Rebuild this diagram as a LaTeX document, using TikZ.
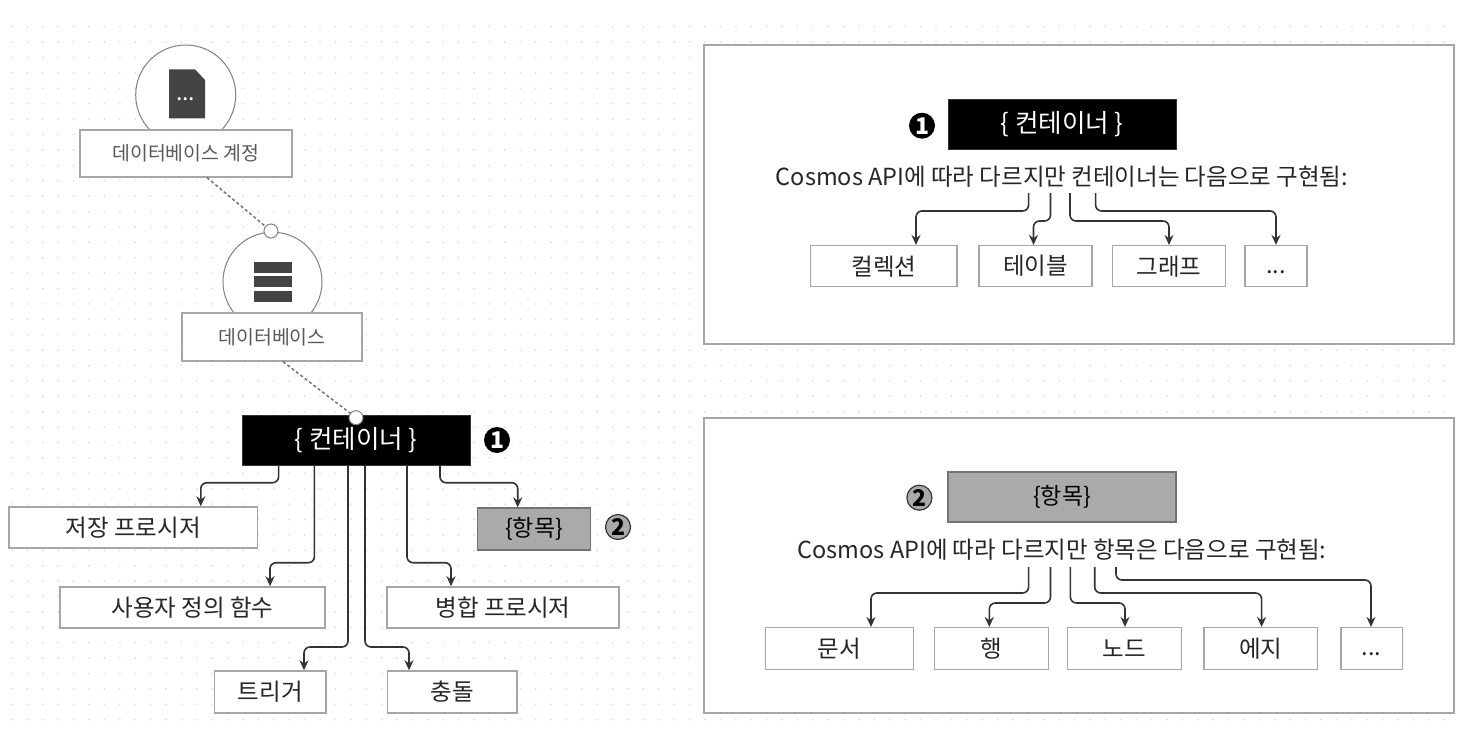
\documentclass[tikz,border=0pt]{standalone}
\usepackage{fontspec}
\setmainfont{Noto Sans CJK KR}
\usetikzlibrary{arrows.meta}
\definecolor{dotc}{HTML}{DEDEDE}
\definecolor{edgec}{HTML}{A6A6A6}
\definecolor{linec}{HTML}{333333}
\definecolor{iconc}{HTML}{444444}
\definecolor{itemc}{HTML}{AAAAAA}
\tikzset{
  lbl/.style={draw=edgec,line width=1.5pt,fill=white,inner sep=0pt,text=black!85,font=\fontsize{23.5}{26}\selectfont},
  toplbl/.style={draw=edgec,line width=1.3pt,fill=white,inner sep=0pt,text=black!65,font=\fontsize{19.4}{22}\selectfont},
  contbox/.style={fill=black,draw=black!80,line width=1pt,inner sep=0pt,text=white,font=\fontsize{25.5}{28}\selectfont},
  itembox/.style={fill=itemc,draw=black!55,line width=1.3pt,inner sep=0pt,text=black,font=\fontsize{23}{26}\selectfont},
  bigcirc/.style={circle,draw=black!50,line width=1pt,fill=white,minimum size=#1,inner sep=0pt},
  joint/.style={circle,draw=black!50,line width=1pt,fill=white,minimum size=14pt,inner sep=0pt},
  numa/.style={circle,fill=black,text=white,minimum size=26pt,inner sep=0pt,font=\fontsize{23}{24}\bfseries\selectfont},
  numb/.style={circle,fill=itemc,draw=black!80,line width=1.2pt,text=black,minimum size=25pt,inner sep=0pt,font=\fontsize{23}{24}\bfseries\selectfont},
  panel/.style={draw=edgec,line width=1.5pt,fill=white,inner sep=0pt},
  body/.style={inner sep=0pt,text=black!85,font=\fontsize{23.5}{26}\selectfont},
  conn/.style={draw=linec,line width=1.6pt,rounded corners=6pt,-{Stealth[length=10pt,width=9pt]}},
  dotline/.style={draw=black!55,line width=1.5pt,dash pattern=on 3pt off 2.5pt},
  icon/.style={fill=iconc,draw=none}
}
% box from x1,y1 to x2,y2
\newcommand{\bx}[7]{\node[#1,minimum width=#4pt-#3pt,minimum height=#6pt-#5pt] (#2) at ({(#3+#4)/2},{(#5+#6)/2}) {#7};}
% source, start x, bend y, target x, target
\newcommand{\conn}[5]{\draw[conn] (#1.south -| #2,0) -- (#2,#3) -- (#4,#3) -- (#5.north -| #4,0);}
\newcommand{\lowdots}{\smash{\raisebox{-7pt}{...}}}
\begin{document}
\begin{tikzpicture}[x=1pt,y=-1pt]
\useasboundingbox (0,0) rectangle (1458,734);
\fill[white] (0,0) rectangle (1458,734);
% dotted grid
\foreach \i in {0,...,94}{\foreach \j in {0,...,45}{
  \fill[dotc] ({12+15.4*\i},{26.7+15.4*\j}) circle (1pt);}}

% circles and icons
\node[bigcirc=100pt] (c1) at (185.7,95) {};
\node[bigcirc=99pt] (c2) at (272.5,281.7) {};
\fill[icon] (169,69.3) -- (195,69.3) -- (205,80) -- (205,118.3) -- (169,118.3) -- cycle;
\node[inner sep=0pt,text=white,font=\fontsize{23}{23}\selectfont] (docdots) at (185.7,99) {...};
\fill[icon] (254,261.7) rectangle (291.7,272.7);
\fill[icon] (254,276.3) rectangle (291.7,286.7);
\fill[icon] (254,290.7) rectangle (291.7,302);

\bx{toplbl}{acct}{80}{292}{130}{177}{데이터베이스 계정}
\bx{toplbl}{db}{182}{362}{313}{361}{데이터베이스}
\bx{contbox}{cont}{242}{470}{415}{465}{\{ 컨테이너 \}}

\node[joint] (j1) at (271,231) {};
\node[joint] (j2) at (356,417.7) {};
\draw[dotline] (acct.south -| 207,0) -- (j1);
\draw[dotline] (db.south -| 283,0) -- (j2);

% left hierarchy
\bx{lbl}{save}{9}{257.5}{507}{548}{저장 프로시저}
\bx{itembox}{item}{477.7}{590.5}{508}{550}{\{항목\}}
\bx{lbl}{udf}{60}{325}{587}{628}{사용자 정의 함수}
\bx{lbl}{merge}{387}{619}{587}{628}{병합 프로시저}
\bx{lbl}{trig}{214.6}{326}{671}{713}{트리거}
\bx{lbl}{conf}{387.6}{517}{671}{713}{충돌}
\node[numa] (n1) at (497,440) {1};
\node[numb] (n2) at (618,527) {2};

\conn{cont}{278.6}{482.7}{200.8}{save}
\conn{cont}{314.4}{562.7}{270}{udf}
\conn{cont}{348}{647}{304}{trig}
\conn{cont}{365}{647}{409}{conf}
\conn{cont}{407}{562.7}{451}{merge}
\conn{cont}{440}{482.7}{517.7}{item}

% upper panel
\bx{panel}{p1}{704}{1454}{45}{344}{}
\bx{contbox}{cont2}{948}{1176}{99}{149}{\{ 컨테이너 \}}
\node[numa] (n3) at (922,125.7) {1};
\node[body,minimum height=28pt,text height=17pt,text depth=5pt] (t1) at (1062,179) {Cosmos API에 따라 다르지만 컨테이너는 다음으로 구현됨:};
\bx{lbl}{a1}{810.7}{957}{245.7}{286.7}{컬렉션}
\bx{lbl}{a2}{979}{1092}{245.7}{286.7}{테이블}
\bx{lbl}{a3}{1112.6}{1225.7}{245.7}{286.7}{그래프}
\bx{lbl}{a4}{1245}{1306.8}{245.7}{286.7}{\lowdots}
\conn{t1}{1028.6}{211}{916}{a1}
\conn{t1}{1050.5}{221}{1033.5}{a2}
\conn{t1}{1070}{221}{1169}{a3}
\conn{t1}{1095.6}{211}{1276}{a4}

% lower panel
\bx{panel}{p2}{704}{1454}{418}{713}{}
\bx{itembox}{item2}{948}{1176}{472}{522}{\{항목\}}
\node[numb] (n4) at (919.4,497.7) {2};
\node[body,minimum height=30pt,text height=17pt,text depth=5pt] (t2) at (1062,552) {Cosmos API에 따라 다르지만 항목은 다음으로 구현됨:};
\bx{lbl}{b1}{765.5}{913.6}{627.7}{669.3}{문서}
\bx{lbl}{b2}{934.5}{1048.5}{627.7}{669.3}{행}
\bx{lbl}{b3}{1067.5}{1181.5}{627.7}{669.3}{노드}
\bx{lbl}{b4}{1204}{1317.5}{627.7}{669.3}{에지}
\bx{lbl}{b5}{1340.8}{1402.5}{627.7}{669.3}{\lowdots}
\conn{t2}{1028.6}{593}{871}{b1}
\conn{t2}{1050.5}{603}{989.3}{b2}
\conn{t2}{1070.4}{603}{1125}{b3}
\conn{t2}{1094.7}{593}{1261.6}{b4}
\conn{t2}{1116}{580}{1371}{b5}
\end{tikzpicture}
\end{document}
